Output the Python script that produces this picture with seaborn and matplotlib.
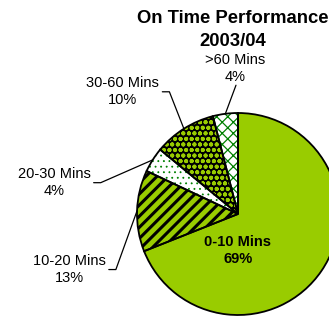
import numpy as np
import seaborn as sns
import matplotlib
matplotlib.use("Agg")
import matplotlib.pyplot as plt

# data
categories = ["0-10 Mins", "10-20 Mins", "20-30 Mins", "30-60 Mins", ">60 Mins"]
shares = [69, 13, 4, 10, 4]
title = "On Time Performance\n2003/04"

GREEN = "#99CC00"
face_colors = [GREEN, GREEN, "white", "black", "white"]
hatch_colors = [GREEN, "black", "#008000", GREEN, "#008000"]
hatches = [None, "///", "...", "ooo", "xxx"]
hatch_widths = [1.0, 2.2, 0.6, 1.3, 0.9]

# label placement (data units, pie radius = 1)
label_pos = {
    "0-10 Mins": (0.0, -0.36),
    "10-20 Mins": (-1.67, -0.55),
    "20-30 Mins": (-1.82, 0.31),
    "30-60 Mins": (-1.14, 1.21),
    ">60 Mins": (-0.03, 1.44),
}

sns.set_style("white")
plt.rcParams["font.family"] = ["Liberation Sans", "DejaVu Sans"]
plt.rcParams["text.color"] = "black"

W, H = 329, 318
fig = plt.figure(figsize=(W / 100, H / 100), dpi=100)
cx, cy, R = 238, 214, 101
ax = fig.add_axes([(cx - R) / W, (H - cy - R) / H, 2 * R / W, 2 * R / H])

# filled + hatched wedges
wedges, _ = ax.pie(shares, startangle=90, counterclock=False, radius=1,
                   colors=face_colors, wedgeprops=dict(linewidth=0))
for w, hc, h, hw in zip(wedges, hatch_colors, hatches, hatch_widths):
    w.set_edgecolor(hc)
    w.set_linewidth(0)
    w.set_clip_on(False)
    if h:
        w.set_hatch(h)
        try:
            w.set_hatch_linewidth(hw)
        except AttributeError:
            w._hatch_linewidth = hw

# black outlines on top
outl, _ = ax.pie(shares, startangle=90, counterclock=False, radius=1,
                 wedgeprops=dict(fill=False, edgecolor="black", linewidth=1.3))
for w in outl:
    w.set_clip_on(False)

ax.set_aspect("auto")
ax.set_xlim(-1, 1)
ax.set_ylim(-1, 1)
ax.axis("off")

fig.text(233 / W, 1 - 30 / H, title, ha="center", va="center",
         fontsize=13.3, fontweight="bold", linespacing=1.5)

renderer = fig.canvas.get_renderer()
inv = ax.transData.inverted()
for w, cat, pct in zip(wedges, categories, shares):
    x, y = label_pos[cat]
    bold = cat == "0-10 Mins"
    t = ax.text(x, y, f"{cat}\n{pct}%", ha="center", va="center",
                fontsize=10.5, fontweight="bold" if bold else "normal",
                linespacing=1.3, clip_on=False)
    if bold:
        continue
    mid = np.deg2rad((w.theta1 + w.theta2) / 2)
    anchor = (np.cos(mid) * 1.0, np.sin(mid) * 1.0)
    bb = t.get_window_extent(renderer).transformed(inv)
    if cat == ">60 Mins":
        start = (x + 0.01, bb.y0 - 0.01)
        ax.plot([start[0], anchor[0]], [start[1], anchor[1]],
                color="black", lw=0.9, clip_on=False)
    else:
        start = (bb.x1 + 0.03, y)
        elbow = (start[0] + 0.07, y)
        ax.plot([start[0], elbow[0], anchor[0]], [start[1], elbow[1], anchor[1]],
                color="black", lw=0.9, clip_on=False)

fig.savefig("out.png", dpi=100)
